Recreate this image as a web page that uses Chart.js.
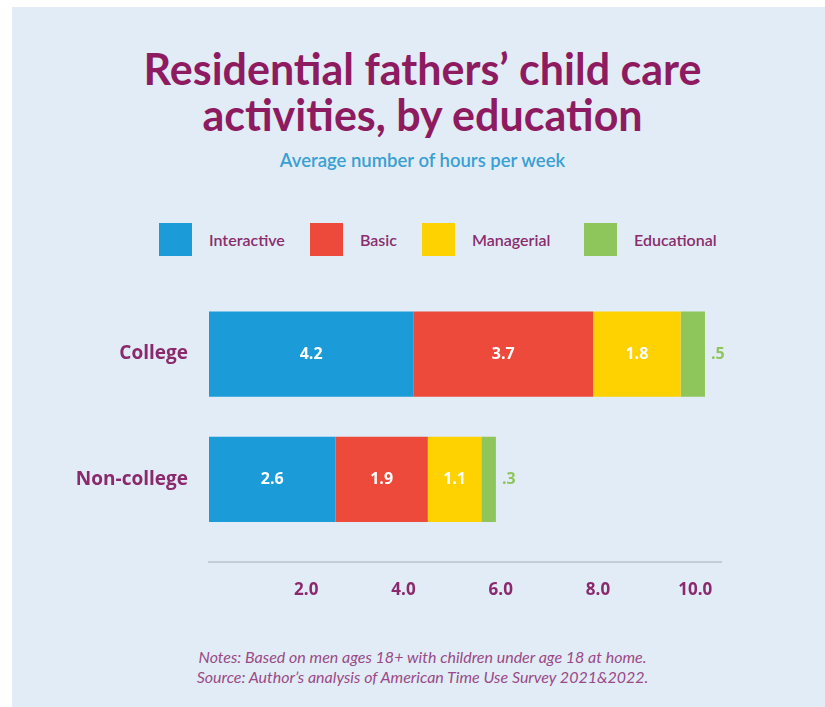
<!DOCTYPE html>
<html>
<head>
<meta charset="utf-8">
<script src="https://cdn.jsdelivr.net/npm/chart.js@4.4.0/dist/chart.umd.min.js"></script>
<style>
  html, body { margin: 0; padding: 0; background: #fff; width: 825px; height: 707px; overflow: hidden; }
  #panel { position: absolute; left: 12px; top: 7px; width: 813px; height: 700px; background: #e1ecf7; }
  .title { position: absolute; left: 0; width: 845px; text-align: center; font-family: Lato, sans-serif;
           font-weight: bold; font-size: 43px; line-height: 46px; color: #8e1b5f; top: 46px; }
  .subtitle { position: absolute; left: 0; width: 845px; text-align: center; font-family: Lato, sans-serif;
              font-weight: 600; font-size: 18.5px; color: #3a9fd2; top: 149px; }
  #legend { position: absolute; top: 223px; left: 0; width: 825px; height: 34px; }
  .item { position: absolute; top: 0; display: flex; align-items: center; height: 33px; }
  .box { width: 33px; height: 33px; margin-right: 17px; }
  .item span { font-family: Lato, sans-serif; font-size: 16px; font-weight: 600; color: #8a2d6c; }
  #chart { position: absolute; left: 0; top: 259px; }
  .notes { position: absolute; left: 0; width: 845px; top: 647px; text-align: center; font-family: Lato, sans-serif;
           font-style: italic; font-size: 16px; line-height: 20px; color: #9a4a86; }
</style>
</head>
<body>
<div id="panel"></div>
<div class="title">Residential fathers’ child care<br>activities, by education</div>
<div class="subtitle">Average number of hours per week</div>
<div id="legend"></div>
<canvas id="chart" width="825" height="351"></canvas>
<div class="notes">Notes: Based on men ages 18+ with children under age 18 at home.<br>Source: Author’s analysis of American Time Use Survey 2021&amp;2022.</div>
<script>
const categories = ['College', 'Non-college'];
const interactive = [4.2, 2.6];
const basic = [3.7, 1.9];
const managerial = [1.8, 1.1];
const educational = [0.5, 0.3];

const purple = '#8a2a6c';
const legendLeft = [159, 310, 422, 584];

// numbers inside the segments, the small educational share sits outside the bar
const valueLabels = {
  id: 'valueLabels',
  afterDatasetsDraw(chart) {
    const ctx = chart.ctx;
    ctx.save();
    ctx.font = 'bold 16px "Open Sans"';
    ctx.textBaseline = 'middle';
    chart.data.datasets.forEach((ds, i) => {
      chart.getDatasetMeta(i).data.forEach((bar, j) => {
        const v = ds.data[j];
        if (ds.label === 'Educational') {
          ctx.fillStyle = ds.backgroundColor;
          ctx.textAlign = 'left';
          ctx.fillText(v.toFixed(1).replace(/^0/, ''), bar.x + 6, bar.y);
        } else {
          ctx.fillStyle = '#fff';
          ctx.textAlign = 'center';
          ctx.fillText(v.toFixed(1), (bar.x + bar.base) / 2, bar.y);
        }
      });
    });
    ctx.restore();
  }
};

// baseline rule sits a little below the bars
const baseRule = {
  id: 'baseRule',
  beforeDatasetsDraw(chart) {
    const { ctx, chartArea } = chart;
    ctx.save();
    ctx.strokeStyle = '#c4ccd8';
    ctx.lineWidth = 2;
    ctx.beginPath();
    ctx.moveTo(chartArea.left - 1, chartArea.bottom + 20);
    ctx.lineTo(chartArea.right, chartArea.bottom + 20);
    ctx.stroke();
    ctx.restore();
  }
};

const chart = new Chart(document.getElementById('chart'), {
  type: 'bar',
  data: {
    labels: categories,
    datasets: [
      { label: 'Interactive', data: interactive, backgroundColor: '#1b9bd8' },
      { label: 'Basic', data: basic, backgroundColor: '#ee4a3c' },
      { label: 'Managerial', data: managerial, backgroundColor: '#fed100' },
      { label: 'Educational', data: educational, backgroundColor: '#8ec65b' },
    ],
  },
  options: {
    indexAxis: 'y',
    responsive: false,
    animation: false,
    barPercentage: 0.68,
    categoryPercentage: 1,
    layout: { padding: { top: 0, right: 103, bottom: 8, left: 0 } },
    plugins: { legend: { display: false }, tooltip: { enabled: false } },
    scales: {
      x: {
        stacked: true,
        min: 0,
        max: 10.55,
        grid: { display: false, drawTicks: false },
        border: { display: false },
        afterFit(scale) { scale.height = 60; },
        ticks: {
          stepSize: 2,
          includeBounds: false,
          padding: 38,
          color: purple,
          font: { family: 'Open Sans', weight: 'bold', size: 17 },
          callback: v => (v === 0 ? '' : v.toFixed(1)),
        },
      },
      y: {
        stacked: true,
        grid: { display: false, drawTicks: false },
        border: { display: false },
        afterFit(scale) { scale.width = 209; },
        ticks: {
          padding: 21,
          color: purple,
          font: { family: 'Open Sans', weight: 'bold', size: 19 },
        },
      },
    },
  },
  plugins: [valueLabels, baseRule],
});

// legend built from the datasets
const legend = document.getElementById('legend');
chart.data.datasets.forEach((ds, i) => {
  const item = document.createElement('div');
  item.className = 'item';
  item.style.left = legendLeft[i] + 'px';
  item.innerHTML = '<div class="box" style="background:' + ds.backgroundColor + '"></div><span>' + ds.label + '</span>';
  legend.appendChild(item);
});
</script>
</body>
</html>
